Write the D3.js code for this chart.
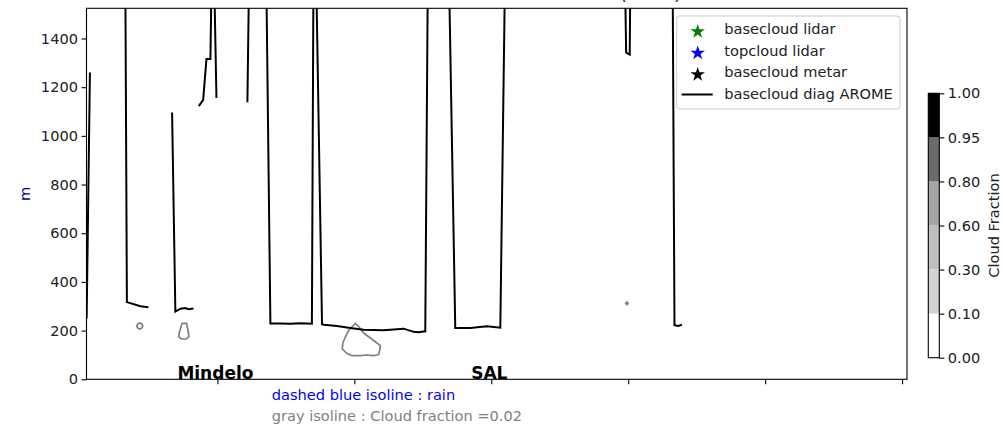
<!DOCTYPE html>
<html>
<head>
<meta charset="utf-8">
<script src="https://cdn.jsdelivr.net/npm/d3@7"></script>
<style>
body { margin: 0; background: #fff; }
text { font-family: "DejaVu Sans", sans-serif; }
</style>
</head>
<body>
<div id="chart"></div>
<script>
// ticks
const xTicks = [0, 1, 2, 3, 4, 5];
const yTicks = [0, 200, 400, 600, 800, 1000, 1200, 1400];

// basecloud diag AROME (null = no value), x in tick units
const baseX = [-0.955, -0.931, null,
    -0.672, -0.661, -0.562, -0.504, null,
    -0.331, -0.307, -0.270, -0.234, -0.212, -0.175, null,
    -0.136, -0.104, -0.080, -0.051, -0.044, -0.022, -0.007, null,
    0.219, 0.230, 0.358, 0.387, 0.460, 0.533, 0.606, 0.690, 0.701, 0.723,
    0.764, 0.776, 0.874, 0.971, 1.068, 1.214, 1.360, 1.433, 1.467, 1.518, 1.536,
    1.693, 1.737, 1.847, 1.969, 2.066, 2.099,
    2.978, 2.985, 3.011, 3.015,
    3.325, 3.338, 3.367, 3.392];
const baseY = [250, 1260, null,
    1600, 317, 300, 296, null,
    1096, 278, 290, 293, 288, 291, null,
    1122, 1148, 1316, 1316, 1600, 1600, 1156, null,
    1138, 1600, 1600, 229, 229, 228, 230, 228, 1600, 1600,
    226, 224, 219, 211, 204, 201, 208, 195, 193, 197, 1600,
    1600, 211, 211, 218, 212, 1600,
    1600, 1342, 1334, 1600,
    1600, 222, 219, 224];

// cloud fraction = 0.02 isolines
const cfIsolines = [
    [[-0.589, 218.9], [-0.582, 227.5], [-0.567, 231.2], [-0.552, 227.5], [-0.545, 218.9],
     [-0.552, 210.3], [-0.567, 206.6], [-0.582, 210.3]],
    [[-0.258, 230.0], [-0.226, 230.0], [-0.215, 202.5], [-0.208, 175.8], [-0.226, 165.5],
     [-0.263, 165.5], [-0.282, 174.9], [-0.277, 194.3], [-0.266, 214.8]],
    [[1.007, 229.2], [1.029, 218.9], [1.068, 190.1], [1.117, 169.6], [1.153, 154.4],
     [1.190, 138.8], [1.186, 120.3], [1.177, 101.8], [1.141, 96.9], [1.088, 99.8],
     [1.044, 96.9], [0.985, 96.9], [0.947, 106.0], [0.912, 124.4], [0.916, 149.1],
     [0.934, 173.7], [0.956, 198.4], [0.983, 216.0]],
    [[2.982, 312.1], [2.990, 317.5], [2.999, 312.1], [2.990, 306.8]]
];

// colorbar
const cfLevels = [0.00, 0.10, 0.30, 0.60, 0.80, 0.95, 1.00];
const cfColors = ['#ffffff', '#d3d3d3', '#bfbfbf', '#a5a5a5', '#6b6b6b', '#000000'];

// legend
const legendNames = ['basecloud lidar', 'topcloud lidar', 'basecloud metar', 'basecloud diag AROME'];
const legendColors = ['green', 'blue', 'black', 'black'];

// places
const places = ['Mindelo', 'SAL'];
const placeX = [0, 2];

var fs = 14.6;
var pLeft = 86.5, pRight = 907, pTop = 8.3, pBottom = 379.3;

var svg = d3.select('#chart')
    .append('svg')
    .attr('width', 1003)
    .attr('height', 425)

let x = d3.scaleLinear()
    .domain([-0.956, 5.036])
    .range([pLeft, pRight])
let y = d3.scaleLinear()
    .domain([0, 1524])
    .range([pBottom, pTop])

svg.append('clipPath').attr('id', 'clip')
    .append('rect')
    .attr('x', pLeft).attr('y', pTop)
    .attr('width', pRight - pLeft).attr('height', pBottom - pTop)

// title (mostly above the page)
svg.append('text')
    .attr('x', 681)
    .attr('y', 0.3)
    .attr('text-anchor', 'end')
    .style('font-size', '17px')
    .style('fill', 'darkblue')
    .text('Cloud base AROME vs observations (hours)')

var plot = svg.append('g').attr('clip-path', 'url(#clip)')

// gray isolines
plot.selectAll('path.cf')
    .data(cfIsolines)
    .enter()
    .append('path')
    .attr('class', 'cf')
    .attr('d', d3.line().x(d => x(d[0])).y(d => y(d[1])).curve(d3.curveLinearClosed))
    .attr('fill', 'none')
    .attr('stroke', 'gray')
    .attr('stroke-width', 1.7)

// basecloud line
var pts = baseX.map((d, i) => [d, baseY[i]]);
plot.append('path')
    .datum(pts)
    .attr('d', d3.line()
        .defined(d => d[0] != null && d[1] != null)
        .x(d => x(d[0]))
        .y(d => y(d[1])))
    .attr('fill', 'none')
    .attr('stroke', 'black')
    .attr('stroke-width', 2)

// place names
svg.selectAll('text.place')
    .data(places)
    .enter()
    .append('text')
    .attr('class', 'place')
    .attr('x', (d, i) => x(placeX[i]) - 2)
    .attr('y', y(0))
    .attr('text-anchor', 'middle')
    .style('font-size', '17px')
    .style('font-weight', 'bold')
    .text(d => d)

// axes
let yAxis = d3.axisLeft(y).tickValues(yTicks).tickSize(5).tickPadding(3.5).tickFormat(d3.format('d'))
let xAxis = d3.axisBottom(x).tickValues(xTicks).tickSize(5).tickFormat('')

var gy = svg.append('g')
    .attr('transform', 'translate(' + pLeft + ',0)')
    .call(yAxis)
var gx = svg.append('g')
    .attr('transform', 'translate(0,' + pBottom + ')')
    .call(xAxis)
;[gx, gy].forEach(g => {
    g.select('.domain').remove();
    g.selectAll('line').attr('stroke', 'black').attr('stroke-width', 1.1);
    g.selectAll('text').style('font-size', fs + 'px').attr('fill', '#222').style('font-family', '"DejaVu Sans"');
});

svg.append('rect')
    .attr('x', pLeft).attr('y', pTop)
    .attr('width', pRight - pLeft).attr('height', pBottom - pTop)
    .attr('fill', 'none')
    .attr('stroke', 'black')
    .attr('stroke-width', 1.1)

svg.append('text')
    .attr('transform', 'translate(30,194) rotate(-90)')
    .attr('text-anchor', 'middle')
    .style('font-size', fs + 'px')
    .style('fill', 'darkblue')
    .text('m')

// legend
var lg = svg.append('g')
lg.append('rect')
    .attr('x', 676.7).attr('y', 16)
    .attr('width', 223.3).attr('height', 93)
    .attr('rx', 3)
    .attr('fill', 'white').attr('fill-opacity', 0.8)
    .attr('stroke', '#cccccc')
legendNames.forEach((name, i) => {
    var ly = 30 + i * 21.5;
    if (i < 3) {
        lg.append('path')
            .attr('d', d3.symbol(d3.symbolStar).size(65)())
            .attr('transform', 'translate(697.7,' + (ly + 1.5) + ')')
            .attr('fill', legendColors[i])
    } else {
        lg.append('line')
            .attr('x1', 681.7).attr('x2', 712.7)
            .attr('y1', ly).attr('y2', ly)
            .attr('stroke', legendColors[i])
            .attr('stroke-width', 2)
    }
    lg.append('text')
        .attr('x', 724.3).attr('y', ly)
        .attr('dy', '0.3em')
        .style('font-size', fs + 'px')
        .attr('fill', '#222')
        .text(name)
})

// colorbar
let cb = d3.scaleLinear()
    .domain([0, cfLevels.length - 1])
    .range([357.7, 93.3])
var cbx = 928.3, cbw = 11;
svg.selectAll('rect.cb')
    .data(cfColors)
    .enter()
    .append('rect')
    .attr('class', 'cb')
    .attr('x', cbx)
    .attr('y', (d, i) => cb(i + 1))
    .attr('width', cbw)
    .attr('height', (d, i) => cb(i) - cb(i + 1))
    .attr('fill', d => d)
svg.append('rect')
    .attr('x', cbx).attr('y', cb(cfLevels.length - 1))
    .attr('width', cbw).attr('height', cb(0) - cb(cfLevels.length - 1))
    .attr('fill', 'none').attr('stroke', 'black').attr('stroke-width', 1.1)
var gc = svg.append('g')
    .attr('transform', 'translate(' + (cbx + cbw) + ',0)')
    .call(d3.axisRight(cb).tickValues(d3.range(cfLevels.length)).tickSize(5).tickPadding(3.5)
        .tickFormat(i => cfLevels[i].toFixed(2)))
gc.select('.domain').remove()
gc.selectAll('line').attr('stroke', 'black').attr('stroke-width', 1.1)
gc.selectAll('text').style('font-size', fs + 'px').attr('fill', '#222').style('font-family', '"DejaVu Sans"')

svg.append('text')
    .attr('transform', 'translate(998.5,225.5) rotate(-90)')
    .attr('text-anchor', 'middle')
    .style('font-size', fs + 'px')
    .attr('fill', '#222')
    .text('Cloud Fraction')

// notes under the axis
svg.append('text')
    .attr('x', 271.7).attr('y', 400)
    .style('font-size', fs + 'px')
    .attr('fill', 'blue')
    .text('dashed blue isoline : rain')
svg.append('text')
    .attr('x', 271.7).attr('y', 421)
    .style('font-size', fs + 'px')
    .attr('fill', 'gray')
    .text('gray isoline : Cloud fraction =0.02')
</script>
</body>
</html>
